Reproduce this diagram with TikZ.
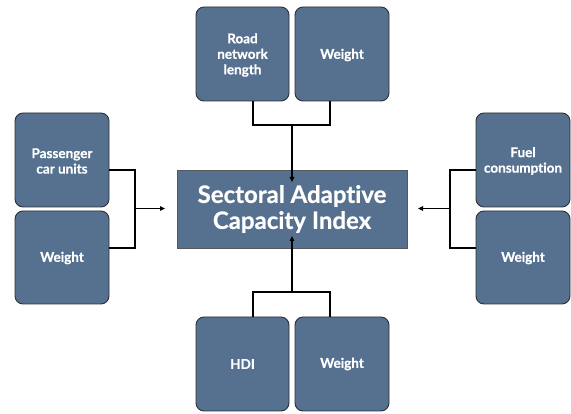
\documentclass[tikz,border=0pt]{standalone}
\usepackage{fontspec}
\setmainfont{Lato}[Ligatures=NoCommon, BoldFeatures={FakeBold=0.6}]
\usetikzlibrary{arrows.meta}
\definecolor{boxblue}{HTML}{56708F}
\definecolor{boxedge}{HTML}{2B2F36}
\tikzset{
  inbox/.style={draw=boxedge, line width=0.9pt, fill=boxblue, rounded corners=8pt,
    text=white, font=\fontsize{13.5}{15.5}\selectfont\bfseries, align=center},
  mainbox/.style={draw=boxedge!80, line width=0.8pt, fill=boxblue,
    text=white, font=\fontsize{24}{26}\selectfont\bfseries, align=center},
  conn/.style={line width=1.1pt, black},
  arr/.style={conn, -{Triangle[length=5pt,width=4.5pt]}}
}
\begin{document}
\begin{tikzpicture}[x=1pt,y=-1pt]
\useasboundingbox (0,0) rectangle (571,414);
% central box
\draw[mainbox] (177,170) rectangle (407,248);
\node[mainbox, draw=none, fill=none] (c) at (292,209) {Sectoral Adaptive\\Capacity Index};
\coordinate (cN) at (292,170);
\coordinate (cS) at (292,248);
\coordinate (cW) at (177,208.5);
\coordinate (cE) at (407,208.5);
% top
\draw[inbox] (196,7) rectangle (289,101);
\node[inbox, draw=none, fill=none] (t1) at (242.5,55) {Road\\network\\length};
\draw[inbox] (295,7) rectangle (389,101);
\node[inbox, draw=none, fill=none] (t2) at (342,55) {Weight};
% left
\draw[inbox] (15,113) rectangle (109,207);
\node[inbox, draw=none, fill=none] (l1) at (62,161) {Passenger\\car units};
\draw[inbox] (15,211) rectangle (109,304);
\node[inbox, draw=none, fill=none] (l2) at (62,258) {Weight};
% right
\draw[inbox] (476,113) rectangle (570,207);
\node[inbox, draw=none, fill=none] (r1) at (523,161) {Fuel\\consumption};
\draw[inbox] (476,211) rectangle (570,304);
\node[inbox, draw=none, fill=none] (r2) at (523,258) {Weight};
% bottom
\draw[inbox] (196,317) rectangle (289,411);
\node[inbox, draw=none, fill=none] (b1) at (242.5,364) {HDI};
\draw[inbox] (295,317) rectangle (389,411);
\node[inbox, draw=none, fill=none] (b2) at (342,364) {Weight};
% connectors top
\coordinate (tj) at (292,125);
\draw[conn] (253,101) |- (330,125) -- (330,101);
\draw[arr] (tj) -- ([yshift=-12pt]cN);
% bottom
\coordinate (bj) at (292,292);
\draw[conn] (253,317) |- (330,292) -- (330,317);
\draw[arr] (bj) -- ([yshift=12pt]cS);
% left
\coordinate (lj) at (135,208.5);
\draw[conn] (109,170) -| (135,248) -- (109,248);
\draw[arr] (lj) -- ([xshift=-12pt]cW);
% right
\coordinate (rj) at (450,208.5);
\draw[conn] (476,170) -| (450,248) -- (476,248);
\draw[arr] (rj) -- ([xshift=11pt]cE);
\end{tikzpicture}
\end{document}
